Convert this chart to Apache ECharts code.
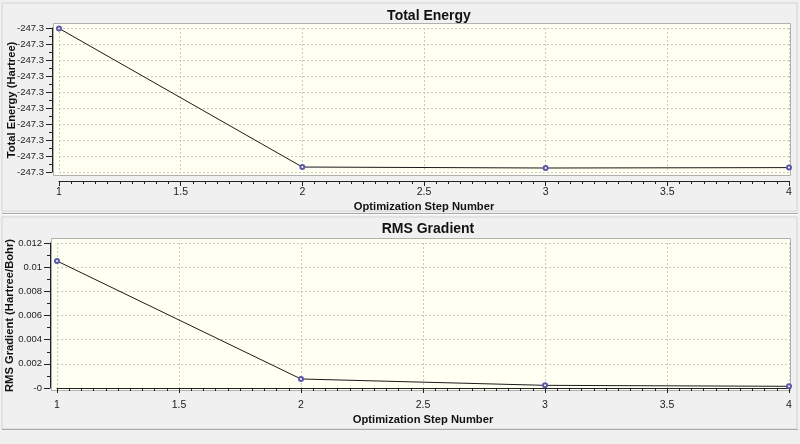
<!DOCTYPE html>
<html><head><meta charset="utf-8">
<script src="https://cdn.jsdelivr.net/npm/echarts@6/dist/echarts.min.js"></script>
<style>html,body{margin:0;padding:0;background:#f0f0f0}#c{width:800px;height:444px}</style>
</head><body><div id="c"></div>
<script>
const steps = [1, 2, 3, 4];
const totalEnergy = [-247.29205, -247.30938, -247.3095, -247.30945];
const rmsGradient = [0.01051, 0.000745, 0.00022, 0.00014];
const energyTickLabels = ['-247.3','-247.3','-247.3','-247.3','-247.3','-247.3','-247.3','-247.3','-247.3','-247.3'];
const gradientTickLabels = ['-0','0.002','0.004','0.006','0.008','0.01','0.012'];
const xTickLabels = ['1','1.5','2','2.5','3','3.5','4'];

const chart = echarts.init(document.getElementById('c'), null, {renderer:'canvas'});
const font = 'Arial, "Liberation Sans", sans-serif';
const lineColor = '#1a1a1a';
const markColor = '#5a5aa8';
const gridLine = {show:true, lineStyle:{color:'#c8c8c8', type:[2,2], width:1}};

function xAxis(gridIndex, offset){
  return {
    gridIndex, type:'value', min:1, max:4, interval:0.5, offset,
    name:'Optimization Step Number', nameLocation:'middle', nameGap:20, nameMoveOverlap:false,
    nameTextStyle:{fontFamily:font, fontWeight:'bold', fontSize:11.2, color:'#111'},
    axisLine:{lineStyle:{color:'#222', width:1}},
    axisTick:{length:5, lineStyle:{color:'#222'}},
    minorTick:{show:true, splitNumber:10, length:3, lineStyle:{color:'#222'}},
    axisLabel:{fontFamily:font, fontSize:10.5, color:'#222', margin:6,
      formatter:(v,i)=>xTickLabels[i]},
    splitLine:gridLine
  };
}
function yAxis(gridIndex, min, max, name, labels){
  return {gridIndex, type:'value', min, max, interval:0.002, offset:7,
    name, nameLocation:'middle', nameGap:35, nameMoveOverlap:false,
    nameTextStyle:{fontFamily:font, fontWeight:'bold', fontSize:11.2, color:'#111'},
    axisLine:{show:true, lineStyle:{color:'#222'}},
    axisTick:{show:true, length:6, lineStyle:{color:'#222'}},
    minorTick:{show:true, splitNumber:2, length:3, lineStyle:{color:'#222'}},
    axisLabel:{fontFamily:font, fontSize:9.5, color:'#222', margin:8,
      formatter:(v,i)=>labels[i]},
    splitLine:gridLine};
}
const s = (data)=>steps.map((x,i)=>[x,data[i]]);
const series = (xi, data)=>({
  type:'line', xAxisIndex:xi, yAxisIndex:xi, data:s(data),
  symbol:'emptyCircle', symbolSize:4,
  lineStyle:{color:lineColor, width:1},
  itemStyle:{color:markColor, borderColor:markColor, borderWidth:1},
  animation:false
});

chart.setOption({
  backgroundColor:'#f0f0f0',
  animation:false,
  graphic:[
    {type:'rect', shape:{x:2,y:3,width:795,height:208}, style:{fill:'none', stroke:'#d4d4d4', lineWidth:1}, z:-10},
    {type:'line', shape:{x1:2,y1:213.5,x2:798,y2:213.5}, style:{stroke:'#a8a8a8', lineWidth:1}, z:-10},
    {type:'line', shape:{x1:2,y1:214.5,x2:798,y2:214.5}, style:{stroke:'#ffffff', lineWidth:1}, z:-10},
    {type:'rect', shape:{x:2,y:217,width:795,height:212}, style:{fill:'none', stroke:'#d4d4d4', lineWidth:1}, z:-10},
    {type:'line', shape:{x1:2,y1:429.5,x2:798,y2:429.5}, style:{stroke:'#a8a8a8', lineWidth:1}, z:-10},
    {type:'rect', shape:{x:53.5,y:23.5,width:737,height:152}, style:{fill:'#fffff2', stroke:'#b0b0b0', lineWidth:1}, z:-5},
    {type:'rect', shape:{x:51.5,y:238.5,width:739,height:152}, style:{fill:'#fffff2', stroke:'#b0b0b0', lineWidth:1}, z:-5}
  ],
  title:[
    {text:'Total Energy', left:424, top:4, textAlign:'center',
      textStyle:{fontFamily:font, fontWeight:'bold', fontSize:14, color:'#111'}},
    {text:'RMS Gradient', left:423, top:217, textAlign:'center',
      textStyle:{fontFamily:font, fontWeight:'bold', fontSize:14, color:'#111'}}
  ],
  grid:[
    {left:59, right:11, top:28, bottom:272, containLabel:false, outerBoundsMode:'none'},
    {left:57, right:11, top:243, bottom:56, containLabel:false, outerBoundsMode:'none'}
  ],
  xAxis:[xAxis(0, 9), xAxis(1, 6)],
  yAxis:[
    yAxis(0, -247.310, -247.292, 'Total Energy (Hartree)', energyTickLabels),
    yAxis(1, 0, 0.012, 'RMS Gradient (Hartree/Bohr)', gradientTickLabels)
  ],
  series:[series(0,totalEnergy), series(1,rmsGradient)]
});
</script></body></html>
